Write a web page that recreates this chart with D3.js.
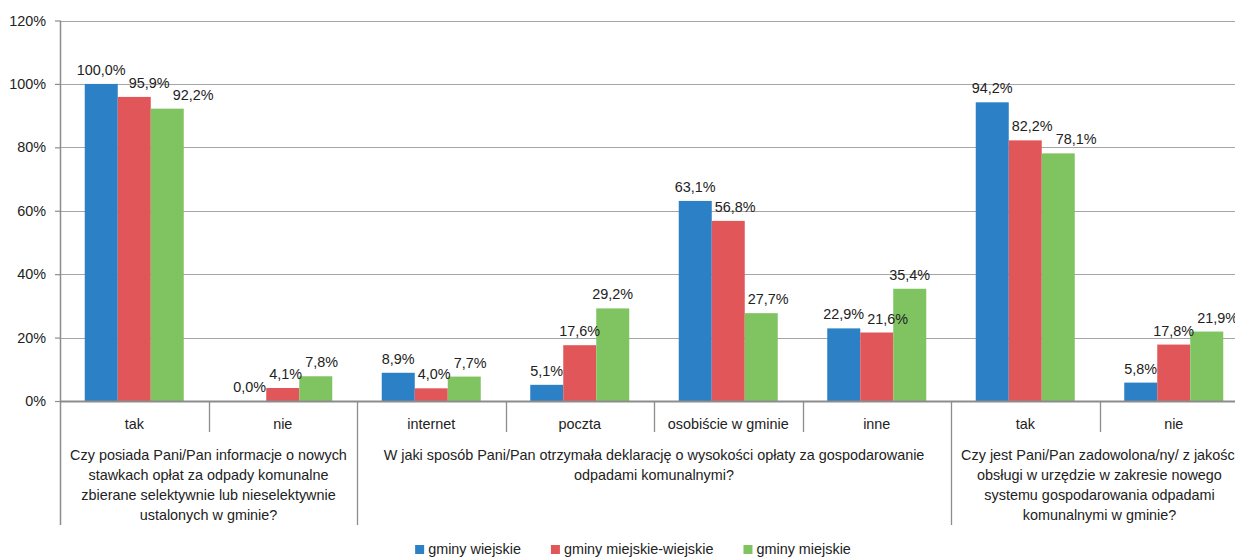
<!DOCTYPE html>
<html>
<head>
<meta charset="utf-8">
<script src="https://cdn.jsdelivr.net/npm/d3@7"></script>
<style>
  body { margin: 0; background: #fff; }
  svg text { font-family: "Liberation Sans", Arial, sans-serif; font-size: 14.4px; fill: #222; }
</style>
</head>
<body>
<svg id="chart" width="1235" height="557"></svg>
<script>
// survey answers, per type of gmina (values in %)
var categories = ["tak", "nie", "internet", "poczta", "osobiście w gminie", "inne", "tak", "nie"];
var seriesNames = ["gminy wiejskie", "gminy miejskie-wiejskie", "gminy miejskie"];
var wiejskie = [100.0, 0.0, 8.9, 5.1, 63.1, 22.9, 94.2, 5.8];
var miejskoWiejskie = [95.9, 4.1, 4.0, 17.6, 56.8, 21.6, 82.2, 17.8];
var miejskie = [92.2, 7.8, 7.7, 29.2, 27.7, 35.4, 78.1, 21.9];
var yTicks = [0, 20, 40, 60, 80, 100, 120];

// questions grouping the answers: first category index, number of categories, text lines
var questions = [
  { start: 0, count: 2, lines: ["Czy posiada Pani/Pan informacje o nowych", "stawkach opłat za odpady komunalne",
      "zbierane selektywnie lub nieselektywnie", "ustalonych w gminie?"] },
  { start: 2, count: 4, lines: ["W jaki sposób Pani/Pan otrzymała deklarację o wysokości opłaty za gospodarowanie",
      "odpadami komunalnymi?"] },
  { start: 6, count: 2, lines: ["Czy jest Pani/Pan zadowolona/ny/ z jakości", "obsługi w urzędzie w zakresie nowego",
      "systemu gospodarowania odpadami", "komunalnymi w gminie?"] }
];

var colors = ["#2b80c6", "#e15759", "#80c462"];
var seriesValues = [wiejskie, miejskoWiejskie, miejskie];

var svg = d3.select("#chart");
var plotLeft = 60, plotRight = 1248, plotTop = 20.5, plotBottom = 401;
var axisColor = "#8c8c8c";

var x0 = d3.scaleBand().domain(d3.range(categories.length)).range([plotLeft, plotRight]);
var x1 = d3.scaleBand().domain(d3.range(seriesNames.length)).range([0, x0.bandwidth()]).paddingOuter(0.75);
var y = d3.scaleLinear().domain([0, 120]).range([plotBottom, plotTop]);

// grid
svg.append("g").selectAll("line").data(yTicks.slice(1)).enter().append("line")
  .attr("x1", plotLeft).attr("x2", plotRight)
  .attr("y1", function(d) { return Math.round(y(d)) + 0.5; })
  .attr("y2", function(d) { return Math.round(y(d)) + 0.5; })
  .attr("stroke", "#a6a6a6").attr("stroke-width", 1.2);

// y axis
var yAxis = svg.append("g").attr("transform", "translate(" + plotLeft + ",0)")
  .call(d3.axisLeft(y).tickValues(yTicks).tickSize(5).tickPadding(9).tickFormat(function(d) { return d + "%"; }));
yAxis.select(".domain").remove();
yAxis.selectAll(".tick line").attr("stroke", axisColor).attr("stroke-width", 1.2);
yAxis.selectAll(".tick text").attr("fill", "#222").style("font-size", "14.4px");
yAxis.attr("font-family", null).attr("font-size", null);

// bars
var bars = svg.append("g");
seriesValues.forEach(function(vals, s) {
  bars.selectAll(".bar" + s).data(vals).enter().append("rect")
    .attr("class", "bar" + s)
    .attr("x", function(d, i) { return x0(i) + x1(s); })
    .attr("width", x1.bandwidth())
    .attr("y", function(d) { return y(d); })
    .attr("height", function(d) { return plotBottom - y(d); })
    .attr("fill", colors[s]);
});

// value labels, centred over the bar; a label that would collide with the
// previous label or the previous bar in the same category is pushed right
var fmt = d3.format(".1f");
var labelG = svg.append("g");
d3.range(categories.length).forEach(function(i) {
  var prev = null;
  seriesValues.forEach(function(vals, s) {
    var t = labelG.append("text")
      .attr("x", x0(i) + x1(s) + x1.bandwidth() / 2)
      .attr("y", y(vals[i]) - 9)
      .attr("text-anchor", "middle")
      .text(fmt(vals[i]).replace(".", ",") + "%");
    var b = t.node().getBBox();
    var shift = 0;
    if (prev) {
      if (b.y < prev.y + prev.height && prev.y < b.y + b.height) {
        shift = Math.max(shift, prev.x + prev.width + 3 - b.x);
      }
    }
    if (s > 0) {
      var prevBarRight = x0(i) + x1(s - 1) + x1.bandwidth();
      if (b.y + b.height > y(seriesValues[s - 1][i])) {
        shift = Math.max(shift, prevBarRight + 3 - b.x);
      }
    }
    if (shift > 0) {
      t.attr("x", +t.attr("x") + shift);
      b = t.node().getBBox();
    }
    prev = b;
  });
});

// axis lines
svg.append("line").attr("x1", plotLeft).attr("x2", plotRight).attr("y1", plotBottom + 0.5).attr("y2", plotBottom + 0.5)
  .attr("stroke", axisColor).attr("stroke-width", 2);
svg.append("line").attr("x1", plotLeft + 0.5).attr("x2", plotLeft + 0.5).attr("y1", plotTop).attr("y2", 525)
  .attr("stroke", axisColor).attr("stroke-width", 1.5);

// category dividers and labels
svg.append("g").selectAll("line").data(d3.range(1, categories.length)).enter().append("line")
  .attr("x1", function(i) { return Math.round(x0(i)) + 0.5; })
  .attr("x2", function(i) { return Math.round(x0(i)) + 0.5; })
  .attr("y1", plotBottom).attr("y2", function(i) {
    var isGroupEdge = questions.some(function(q) { return q.start === i; });
    return isGroupEdge ? 525 : 432;
  })
  .attr("stroke", axisColor).attr("stroke-width", 1.3);

svg.append("g").selectAll("text").data(categories).enter().append("text")
  .attr("x", function(d, i) { return x0(i) + x0.bandwidth() / 2; })
  .attr("y", 429)
  .attr("text-anchor", "middle")
  .text(function(d) { return d; });

// question texts
questions.forEach(function(q) {
  var cx = (x0(q.start) + x0(q.start + q.count - 1) + x0.bandwidth()) / 2;
  svg.append("g").selectAll("text").data(q.lines).enter().append("text")
    .attr("x", cx)
    .attr("y", function(d, i) { return 460 + i * 20; })
    .attr("text-anchor", "middle")
    .text(function(d) { return d; });
});

// legend
var legend = svg.append("g");
var items = legend.selectAll("g").data(seriesNames).enter().append("g");
items.append("rect").attr("width", 9).attr("height", 9).attr("y", 545)
  .attr("fill", function(d, i) { return colors[i]; });
items.append("text").attr("x", 13).attr("y", 554)
  .text(function(d) { return d; });
var pos = 0, offsets = [];
items.each(function() {
  offsets.push(pos);
  pos += this.getBBox().width + 30;
});
var startX = 633 - (pos - 30) / 2;
items.attr("transform", function(d, i) { return "translate(" + (startX + offsets[i]) + ",0)"; });
</script>
</body>
</html>
